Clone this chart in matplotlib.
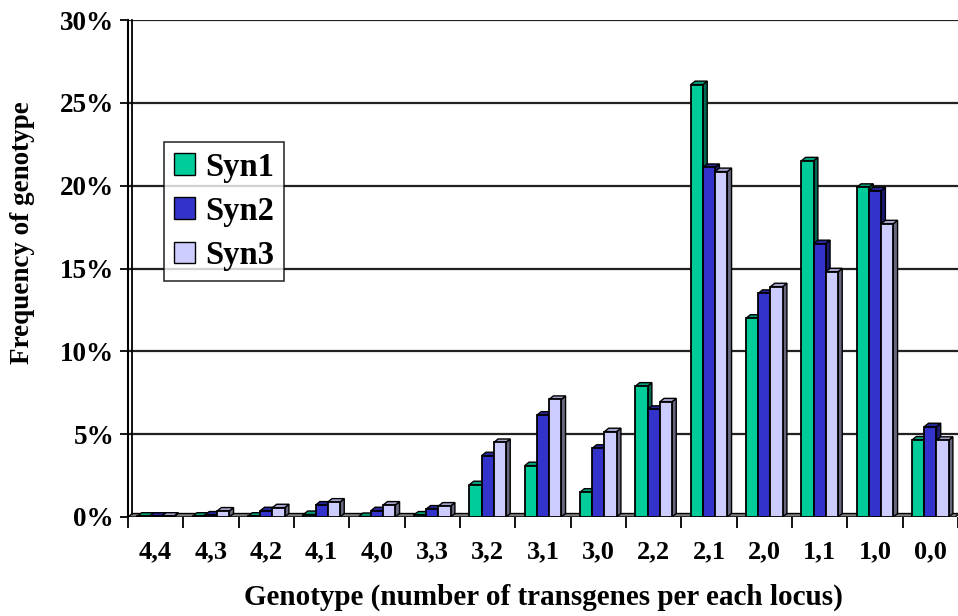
import matplotlib
matplotlib.use("Agg")
import matplotlib.pyplot as plt
from matplotlib.patches import Polygon, Rectangle
from matplotlib.ticker import FuncFormatter

categories = ["4,4", "4,3", "4,2", "4,1", "4,0", "3,3", "3,2", "3,1", "3,0",
              "2,2", "2,1", "2,0", "1,1", "1,0", "0,0"]
series_names = ["Syn1", "Syn2", "Syn3"]
syn1 = [0.05, 0.05, 0.05, 0.15, 0.03, 0.12, 1.95, 3.1, 1.5, 7.9, 26.1, 12.0, 21.5, 19.9, 4.65]
syn2 = [0.05, 0.12, 0.38, 0.72, 0.38, 0.48, 3.7, 6.15, 4.15, 6.5, 21.1, 13.5, 16.5, 19.7, 5.45]
syn3 = [0.05, 0.36, 0.56, 0.9, 0.72, 0.66, 4.5, 7.1, 5.15, 6.95, 20.85, 13.9, 14.8, 17.7, 4.63]
yticks = [0, 5, 10, 15, 20, 25, 30]

front_colors = ["#00CC99", "#3333CC", "#CCCCFF"]
top_colors = ["#00A07A", "#262699", "#A3A3CC"]
side_colors = ["#006B52", "#1A1A73", "#66667F"]

plt.rcParams['font.family'] = ['Liberation Serif', 'DejaVu Serif']
plt.rcParams['font.weight'] = 'bold'

fig = plt.figure(figsize=(9.58, 6.16), dpi=100)
ax = fig.add_axes([128/958, 99/616, 1 - 128/958, (517-20)/616])

ax.set_xlim(-0.5, 14.45)
ax.set_ylim(0, 30)

w = 0.22
dx = 0.078
dy = 0.21

# gridlines
for t in yticks[1:]:
    ax.axhline(t, color="#222222", lw=1.6, zorder=1)

# floor
ax.add_patch(Polygon([(-0.5, 0), (14.45, 0), (14.45 + dx, dy), (-0.5 + dx, dy)],
                     closed=True, facecolor="#808080", edgecolor="black", lw=1.0, zorder=2))

data = [syn1, syn2, syn3]
z = 3
for i in range(len(categories)):
    for s in range(3):
        h = data[s][i]
        xc = i + (s - 1) * w
        x0 = xc - w / 2
        x1 = xc + w / 2
        side = Polygon([(x1, 0), (x1 + dx, dy), (x1 + dx, h + dy), (x1, h)], closed=True,
                       facecolor=side_colors[s], edgecolor="black", lw=1.0, zorder=z)
        top = Polygon([(x0, h), (x1, h), (x1 + dx, h + dy), (x0 + dx, h + dy)], closed=True,
                      facecolor=top_colors[s], edgecolor="black", lw=1.0, zorder=z)
        front = Rectangle((x0, 0), w, h, facecolor=front_colors[s], edgecolor="black",
                          lw=1.3, zorder=z + 0.5)
        ax.add_patch(side)
        ax.add_patch(top)
        ax.add_patch(front)
        z += 1

# legend
handles = [Rectangle((0, 0), 1, 1, facecolor=c, edgecolor="black", lw=1.0) for c in front_colors]
leg = ax.legend(handles, series_names, loc="upper left", bbox_to_anchor=(36/830, (517-142)/497),
                prop={'family': 'Liberation Serif', 'weight': 'bold', 'size': 23.5},
                frameon=True, fancybox=False, handlelength=0.65, handleheight=0.65,
                handletextpad=0.3, borderpad=0.3, labelspacing=0.4, borderaxespad=0)
leg.get_frame().set_edgecolor("black")
leg.get_frame().set_linewidth(1.2)
leg.set_zorder(100)

# axes
ax.set_xticks([i - 0.5 for i in range(len(categories) + 1)])
ax.set_xticklabels([])
ax.set_xticks(range(len(categories)), minor=True)
ax.set_xticklabels(categories, minor=True, fontsize=19, fontweight='bold')
ax.tick_params(axis='x', which='minor', length=0, pad=17)
ax.tick_params(axis='x', which='major', length=8, width=1.3, direction='out', color='black')
ax.set_yticks(yticks)
ax.yaxis.set_major_formatter(FuncFormatter(lambda v, p: f"{int(v)}%"))
ax.tick_params(axis='y', length=6, width=1.3, direction='out', labelsize=19.5, pad=4)
for lab in ax.get_yticklabels():
    lab.set_fontweight('bold')

for sp in ["top", "right"]:
    ax.spines[sp].set_visible(False)
ax.spines["left"].set_linewidth(1.5)
ax.spines["bottom"].set_visible(False)
ax.plot([dx * 0.5 - 0.5 + 0.03] * 2, [dy, 30], color="black", lw=1.3, zorder=2, clip_on=False)

ax.set_ylabel("Frequency of genotype", fontsize=19.5, fontweight='bold')
ax.set_xlabel("Genotype (number of transgenes per each locus)", fontsize=21,
              fontweight='bold')
ax.yaxis.set_label_coords(-105/830, (517-233)/497, transform=ax.transAxes)
ax.xaxis.set_label_coords((543-128)/830, (517-597)/497, transform=ax.transAxes)
ax.xaxis.label.set_va('center')
ax.yaxis.label.set_va('center')

fig.savefig("out.png", dpi=100)
